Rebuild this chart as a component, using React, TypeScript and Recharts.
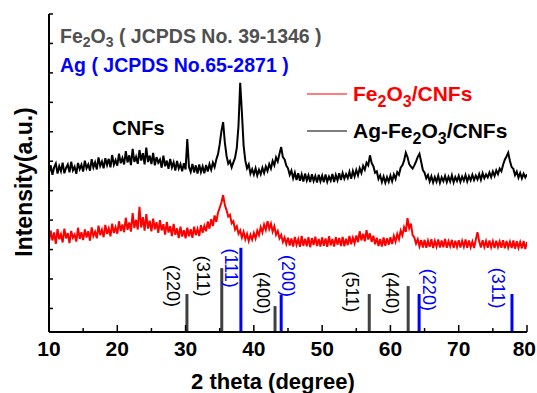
import React from 'react';
import { ComposedChart, Line, XAxis, YAxis, ReferenceLine, ReferenceDot } from 'recharts';

const FONT = '"Liberation Sans", Arial, Helvetica, sans-serif';
const CHART_W = 537;

// 2-theta scan, 10..80 deg in 0.25 deg steps
const SCAN_START = 10;
const SCAN_STEP = 0.25;

// Ag-Fe2O3/CNFs (black trace)
const agFe2o3Cnfs = [
  46.1, 48.6, 45.4, 47.9, 49.2, 45.8, 48.3, 46.6, 49.5, 45.9, 47.7, 48.9, 46.2, 49.8, 46.9, 48.1, 45.7, 49.4, 47.3, 48.8,
  46.5, 50.2, 47.6, 48.9, 46.8, 50.7, 47.9, 49.6, 47.2, 51.3, 48.4, 49.9, 47.6, 51.0, 48.7, 50.8, 47.9, 52.1, 48.8, 50.4,
  48.5, 52.6, 49.3, 51.1, 48.9, 53.4, 49.6, 52.0, 48.7, 54.2, 49.8, 51.5, 49.1, 53.8, 50.2, 52.7, 48.9, 54.6, 49.7, 51.9,
  49.0, 52.8, 48.6, 51.4, 49.5, 50.6, 47.8, 51.9, 48.3, 50.2, 47.4, 50.8, 47.9, 49.6, 46.8, 50.1, 47.5, 49.0, 46.6, 49.3,
  47.2, 57.5, 48.0, 46.4, 49.1, 46.2, 48.6, 45.8, 48.9, 46.3, 48.2, 45.9, 48.7, 46.5, 49.0, 47.1, 49.5, 48.0, 50.6, 52.4,
  55.8, 60.2, 63.3, 56.4, 51.8, 49.2, 50.1, 47.9, 49.6, 51.2, 54.5, 62.0, 76.6, 66.5, 55.3, 50.2, 47.6, 48.9, 45.8, 47.3,
  45.5, 47.6, 45.2, 47.1, 45.6, 47.8, 46.0, 48.2, 46.7, 49.0, 47.5, 50.1, 48.6, 51.3, 49.9, 52.5, 54.8, 51.4, 50.6, 48.5,
  47.6, 45.4, 46.8, 44.2, 46.1, 43.6, 45.9, 43.4, 45.5, 43.1, 45.8, 43.5, 45.2, 42.9, 45.6, 43.3, 45.0, 42.8, 45.4, 43.2,
  45.1, 42.9, 45.5, 43.0, 44.8, 43.4, 45.7, 42.9, 45.3, 43.5, 45.9, 43.6, 46.0, 44.1, 45.6, 44.3, 46.4, 44.0, 46.7, 44.8,
  47.0, 45.2, 47.6, 46.0, 48.4, 47.1, 49.5, 48.6, 52.0, 49.4, 48.3, 46.1, 46.6, 44.0, 45.2, 42.9, 44.8, 42.7, 44.6, 43.0,
  45.1, 43.2, 45.5, 44.0, 46.3, 45.4, 47.8, 48.6, 50.2, 52.9, 51.4, 49.0, 48.2, 47.5, 48.6, 49.9, 51.5, 52.5, 49.8, 47.0,
  46.1, 44.2, 45.3, 43.1, 44.9, 42.8, 44.6, 43.0, 45.1, 42.7, 44.5, 43.2, 45.0, 42.9, 44.7, 43.1, 45.2, 42.8, 44.6, 43.3,
  45.0, 43.0, 44.8, 43.4, 45.3, 43.1, 44.9, 43.5, 45.4, 43.6, 45.1, 43.8, 45.6, 43.7, 45.9, 44.2, 45.5, 44.5, 46.2, 44.6,
  46.5, 45.0, 46.9, 45.6, 47.5, 46.6, 48.8, 50.5, 51.6, 52.9, 50.1, 48.0, 47.4, 45.3, 46.5, 44.4, 46.0, 44.2, 45.8, 44.5,
  45.6,
];

// Fe2O3/CNFs (red trace)
const fe2o3Cnfs = [
  22.6, 26.4, 23.1, 25.8, 21.9, 26.9, 23.5, 25.2, 22.4, 27.1, 23.8, 25.6, 22.2, 26.3, 24.0, 25.1, 22.7, 27.4, 23.6, 25.9,
  23.2, 26.8, 24.1, 26.2, 23.0, 27.5, 24.6, 26.0, 23.8, 28.1, 24.9, 26.7, 24.2, 28.4, 25.3, 27.2, 24.5, 28.8, 25.6, 27.6,
  25.4, 29.6, 26.3, 28.5, 25.9, 30.8, 26.7, 29.2, 26.1, 32.4, 27.3, 30.1, 26.8, 34.5, 27.5, 31.0, 26.4, 32.0, 27.1, 29.8,
  26.2, 30.5, 26.9, 29.3, 25.7, 30.0, 26.5, 28.6, 25.1, 29.4, 25.8, 27.9, 24.6, 28.7, 25.0, 27.2, 23.9, 27.8, 24.4, 26.6,
  23.8, 27.4, 24.5, 26.9, 24.0, 27.8, 24.9, 27.0, 24.6, 28.3, 25.7, 28.0, 26.2, 29.5, 27.1, 30.3, 28.0, 31.6, 29.4, 32.5,
  34.2, 36.0, 38.5, 35.1, 33.4, 31.2, 31.8, 28.9, 29.6, 26.8, 27.9, 25.4, 26.5, 24.1, 26.0, 23.5, 25.3, 22.9, 25.0, 23.4,
  25.6, 23.8, 26.4, 24.9, 27.6, 25.8, 28.5, 26.7, 29.6, 27.0, 28.8, 26.1, 27.9, 25.0, 26.3, 23.8, 25.0, 22.6, 24.1, 21.9,
  24.0, 21.4, 23.8, 21.0, 24.3, 21.6, 23.5, 20.9, 24.6, 21.3, 23.7, 21.1, 24.2, 20.8, 23.9, 21.5, 24.4, 21.2, 23.6, 21.0,
  24.1, 21.3, 23.8, 20.9, 24.5, 21.4, 23.6, 21.0, 24.2, 21.6, 23.9, 21.2, 24.3, 21.1, 23.7, 21.5, 24.6, 21.8, 24.0, 22.1,
  24.8, 22.5, 26.2, 23.1, 25.4, 22.8, 26.6, 23.4, 25.5, 22.6, 24.7, 21.8, 24.0, 21.2, 23.6, 21.0, 24.1, 21.3, 23.8, 21.6,
  24.2, 21.9, 24.6, 22.7, 25.3, 23.5, 26.4, 24.8, 27.6, 26.0, 30.7, 27.2, 28.8, 24.9, 24.1, 22.0, 23.5, 21.1, 23.2, 20.7,
  23.3, 20.6, 23.0, 20.9, 23.5, 20.5, 22.9, 21.0, 23.4, 20.7, 23.1, 20.8, 23.6, 20.6, 22.8, 21.1, 23.3, 20.5, 23.0, 20.9,
  23.2, 20.7, 22.9, 21.0, 23.4, 20.6, 23.1, 20.8, 22.7, 20.5, 23.3, 25.9, 22.8, 20.7, 23.2, 20.9, 22.9, 20.6, 23.1, 20.8,
  22.8, 20.5, 23.0, 20.9, 22.7, 20.6, 23.2, 20.4, 22.9, 20.7, 22.6, 20.5, 23.1, 20.3, 22.8, 20.6, 22.5, 20.4, 22.9, 20.2,
  22.6,
];

const twoTheta = agFe2o3Cnfs.map((_, i) => SCAN_START + i * SCAN_STEP);

// reference patterns (stick heights in plot units)
const fe2o3Peaks = [30.2, 35.3, 43.1, 56.9, 62.6];
const fe2o3Heights = [4.9, 13.7, 0.8, 4.9, 7.6];
const fe2o3Hkl = ['(220)', '(311)', '(400)', '(511)', '(440)'];
const fe2o3LabelX = [28.1, 32.6, 41.3, 54.4, 60.2];
const fe2o3LabelY = [7.6, 11.0, 5.2, 5.6, 5.2];

const agPeaks = [38.1, 44.0, 64.2, 77.8];
const agHeights = [20.6, 4.6, 4.9, 4.9];
const agHkl = ['(111)', '(200)', '(220)', '(311)'];
const agLabelX = [36.6, 45.0, 65.6, 75.8];
const agLabelY = [13.7, 11.0, 6.3, 6.9];

const xTicks = [10, 15, 20, 25, 30, 35, 40, 45, 50, 55, 60, 65, 70, 75, 80];
const yTicks = [0, 10, 20, 30, 40, 50, 60, 70, 80, 90, 100];
const Y_MIN = -8;
const Y_MAX = 100;

const rows = twoTheta.map((t, i) => ({ t, agFe: agFe2o3Cnfs[i], fe: fe2o3Cnfs[i] }));

const XTick = (props: any) => {
  const { x, y, payload } = props;
  const major = payload.value % 10 === 0;
  // keep the last label inside the picture
  const atEdge = x + 12 > CHART_W;
  return (
    <g>
      <line x1={x} x2={x} y1={y} y2={y - (major ? 7 : 4)} stroke="#000" strokeWidth={1.5} />
      {major && (
        <text
          x={atEdge ? CHART_W - 1 : x}
          y={y + 9}
          dy="0.71em"
          textAnchor={atEdge ? 'end' : 'middle'}
          fontFamily={FONT}
          fontWeight="bold"
          fontSize={21}
          fill="#000"
        >
          {payload.value}
        </text>
      )}
    </g>
  );
};

const YTick = (props: any) => {
  const { x, y } = props;
  return <line x1={x} x2={x + 4} y1={y} y2={y} stroke="#000" strokeWidth={1.5} />;
};

const hklLabel = (text: string, color: string) => (props: any) => {
  const vb = props.viewBox || {};
  const cx = vb.x + (vb.width || 0) / 2;
  const cy = vb.y + (vb.height || 0) / 2;
  return (
    <text
      x={cx}
      y={cy}
      transform={`rotate(90 ${cx} ${cy})`}
      textAnchor="middle"
      dominantBaseline="central"
      fontFamily={FONT}
      fontSize={18}
      fill={color}
    >
      {text}
    </text>
  );
};

const cnfsLabel = (props: any) => {
  const vb = props.viewBox || {};
  const cx = vb.x + (vb.width || 0) / 2;
  const cy = vb.y + (vb.height || 0) / 2;
  return (
    <text x={cx} y={cy} textAnchor="middle" fontFamily={FONT} fontWeight="bold" fontSize={20} fill="#000">
      CNFs
    </text>
  );
};

const Formula = ({ sub, dy }: { sub: number; dy: number }) => (
  <>
    Fe<tspan fontSize={sub} dy={dy}>2</tspan>
    <tspan dy={-dy}>O</tspan>
    <tspan fontSize={sub} dy={dy}>3</tspan>
    <tspan dy={-dy}>/CNFs</tspan>
  </>
);

export default function App() {
  return (
    <div style={{ position: 'absolute', left: 0, top: 0, width: CHART_W, height: 393, background: '#fff' }}>
      <ComposedChart width={CHART_W} height={393} data={rows} margin={{ top: 14, right: 10, bottom: 0, left: 0 }}>
        <XAxis
          dataKey="t"
          type="number"
          domain={[10, 80]}
          ticks={xTicks}
          allowDataOverflow
          height={61}
          tickSize={0}
          tickMargin={0}
          tickLine={false}
          tick={<XTick />}
          axisLine={{ stroke: '#000', strokeWidth: 2 }}
          label={{
            content: (p: any) => {
              const vb = p.viewBox;
              return (
                <text x={vb.x + vb.width / 2 - 15} y={vb.y + 57} textAnchor="middle" fontFamily={FONT} fontWeight="bold" fontSize={22} fill="#000">
                  2 theta (degree)
                </text>
              );
            },
          }}
        />
        <XAxis xAxisId="top" orientation="top" type="number" domain={[10, 80]} height={0} tick={false} tickLine={false} axisLine={{ stroke: '#000', strokeWidth: 2 }} />
        <YAxis
          type="number"
          domain={[Y_MIN, Y_MAX]}
          ticks={yTicks}
          width={49}
          tickSize={0}
          tickMargin={0}
          tickLine={false}
          tick={<YTick />}
          axisLine={{ stroke: '#000', strokeWidth: 2 }}
          label={{
            content: (p: any) => {
              const vb = p.viewBox;
              const lx = vb.x + 32;
              const ly = vb.y + vb.height / 2 + 9;
              return (
                <text x={lx} y={ly} transform={`rotate(-90 ${lx} ${ly})`} textAnchor="middle" fontFamily={FONT} fontWeight="bold" fontSize={23} fill="#000">
                  Intensity(a.u.)
                </text>
              );
            },
          }}
        />
        <YAxis yAxisId="right" orientation="right" type="number" domain={[Y_MIN, Y_MAX]} width={0} tick={false} tickLine={false} axisLine={{ stroke: '#000', strokeWidth: 2 }} />

        {fe2o3Peaks.map((p, i) => (
          <ReferenceLine key={`fe-${i}`} segment={[{ x: p, y: Y_MIN }, { x: p, y: fe2o3Heights[i] }]} stroke="#404040" strokeWidth={3} />
        ))}
        {agPeaks.map((p, i) => (
          <ReferenceLine key={`ag-${i}`} segment={[{ x: p, y: Y_MIN }, { x: p, y: agHeights[i] }]} stroke="#0000ff" strokeWidth={3} />
        ))}
        {fe2o3Hkl.map((h, i) => (
          <ReferenceDot key={`feh-${i}`} x={fe2o3LabelX[i]} y={fe2o3LabelY[i]} r={1} fill="none" stroke="none" label={{ content: hklLabel(h, '#000') }} />
        ))}
        {agHkl.map((h, i) => (
          <ReferenceDot key={`agh-${i}`} x={agLabelX[i]} y={agLabelY[i]} r={1} fill="none" stroke="none" label={{ content: hklLabel(h, '#0000ff') }} />
        ))}
        <ReferenceDot x={23.1} y={58.9} r={1} fill="none" stroke="none" label={{ content: cnfsLabel }} />

        <Line dataKey="fe" stroke="#ff0000" strokeWidth={2} dot={false} isAnimationActive={false} />
        <Line dataKey="agFe" stroke="#000" strokeWidth={2} dot={false} isAnimationActive={false} />
      </ComposedChart>

      <svg width={CHART_W} height={393} style={{ position: 'absolute', left: 0, top: 0, pointerEvents: 'none' }}>
        <text x={60} y={43} fontFamily={FONT} fontWeight="bold" fontSize={19.5} fill="#505050">
          Fe<tspan fontSize={14} dy={4}>2</tspan>
          <tspan dy={-4}>O</tspan>
          <tspan fontSize={14} dy={4}>3</tspan>
          <tspan dy={-4}> ( JCPDS No. 39-1346 )</tspan>
        </text>
        <text x={60} y={72} fontFamily={FONT} fontWeight="bold" fontSize={19.5} fill="#0000ff">
          Ag ( JCPDS No.65-2871 )
        </text>

        <line x1={307} x2={347} y1={94} y2={94} stroke="#ff0000" strokeWidth={1.2} />
        <text x={353} y={101} fontFamily={FONT} fontWeight="bold" fontSize={21} fill="#ff0000">
          <Formula sub={16} dy={6} />
        </text>
        <line x1={307} x2={347} y1={131} y2={131} stroke="#000" strokeWidth={1.2} />
        <text x={353} y={138} fontFamily={FONT} fontWeight="bold" fontSize={21} fill="#000">
          Ag-<Formula sub={16} dy={6} />
        </text>
      </svg>
    </div>
  );
}
